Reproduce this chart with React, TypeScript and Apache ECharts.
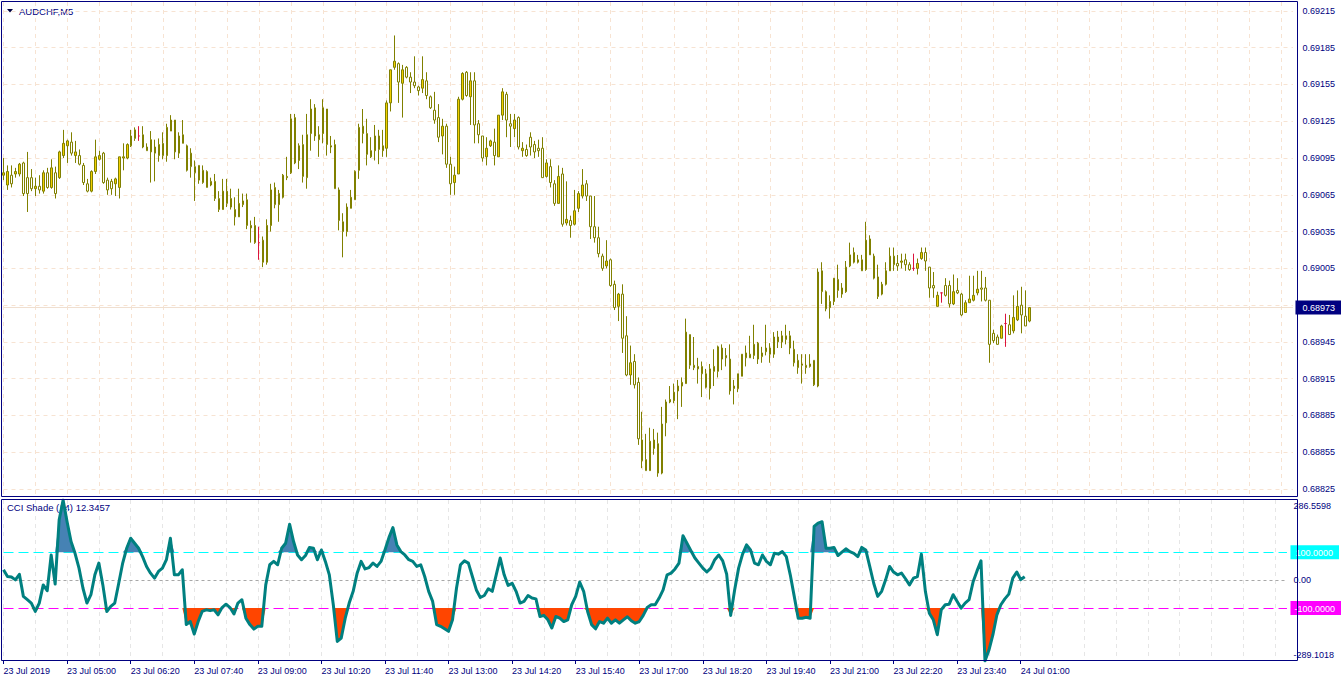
import React, { useEffect, useRef } from 'react';
import * as echarts from 'echarts';

const SYMBOL_TITLE = 'AUDCHF,M5';
const CCI_TITLE = 'CCI Shade (14) 12.3457';

const OPEN = [
  0.69081,0.69073,0.69081,0.69082,0.69082,0.69091,0.69079,0.69079,0.69070,0.69072,
  0.69068,0.69083,0.69071,0.69083,0.69079,0.69097,0.69105,0.69108,0.69097,0.69097,
  0.69089,0.69074,0.69068,0.69084,0.69094,0.69099,0.69077,0.69076,0.69074,0.69071,
  0.69095,0.69095,0.69105,0.69118,0.69113,0.69114,0.69104,0.69100,0.69104,0.69097,
  0.69107,0.69097,0.69117,0.69126,0.69099,0.69114,0.69105,0.69099,0.69088,0.69089,
  0.69085,0.69084,0.69076,0.69076,0.69062,0.69053,0.69068,0.69062,0.69053,0.69047,
  0.69057,0.69061,0.69038,0.69040,0.69026,0.69028,0.69010,0.69040,0.69071,0.69057,
  0.69063,0.69079,0.69083,0.69128,0.69093,0.69106,0.69079,0.69115,0.69136,0.69110,
  0.69115,0.69135,0.69104,0.69106,0.69069,0.69043,0.69035,0.69054,0.69061,0.69085,
  0.69121,0.69115,0.69096,0.69101,0.69113,0.69101,0.69103,0.69140,0.69169,0.69172,
  0.69156,0.69169,0.69161,0.69157,0.69153,0.69152,0.69158,0.69145,0.69134,0.69128,
  0.69113,0.69121,0.69090,0.69075,0.69082,0.69143,0.69165,0.69145,0.69158,0.69123,
  0.69113,0.69096,0.69105,0.69108,0.69096,0.69130,0.69147,0.69123,0.69119,0.69128,
  0.69101,0.69102,0.69112,0.69106,0.69103,0.69103,0.69080,0.69088,0.69074,0.69058,
  0.69082,0.69042,0.69044,0.69041,0.69054,0.69064,0.69074,0.69064,0.69039,0.69030,
  0.69015,0.69007,0.69012,0.68992,0.68974,0.68984,0.68950,0.68918,0.68929,0.68912,
  0.68865,0.68849,0.68840,0.68865,0.68862,0.68838,0.68879,0.68896,0.68897,0.68905,
  0.68909,0.68911,0.68951,0.68926,0.68925,0.68925,0.68919,0.68907,0.68921,0.68921,
  0.68940,0.68934,0.68931,0.68907,0.68907,0.68917,0.68936,0.68935,0.68934,0.68944,
  0.68936,0.68937,0.68940,0.68935,0.68949,0.68945,0.68950,0.68950,0.68939,0.68930,
  0.68927,0.68926,0.68925,0.68930,0.68909,0.69003,0.68986,0.68973,0.68978,0.68996,
  0.68989,0.68986,0.69007,0.69018,0.69010,0.69012,0.69004,0.69029,0.69015,0.68998,
  0.68984,0.68992,0.69003,0.69015,0.69009,0.69010,0.69012,0.69008,0.69005,0.69005,
  0.69013,0.69018,0.69006,0.68991,0.68974,0.68985,0.68991,0.68991,0.68976,0.68987,
  0.68984,0.68969,0.68977,0.68979,0.68985,0.68989,0.68989,0.68979,0.68952,0.68949,
  0.68948,0.68960,0.68959,0.68954,0.68963,0.68975,0.68966,0.68962,
];

const HIGH = [
  0.69095,0.69089,0.69089,0.69087,0.69091,0.69092,0.69100,0.69086,0.69079,0.69081,
  0.69085,0.69087,0.69094,0.69088,0.69101,0.69118,0.69110,0.69116,0.69109,0.69102,
  0.69091,0.69078,0.69085,0.69110,0.69101,0.69100,0.69079,0.69078,0.69079,0.69096,
  0.69107,0.69107,0.69118,0.69120,0.69121,0.69121,0.69107,0.69117,0.69110,0.69111,
  0.69116,0.69123,0.69130,0.69126,0.69116,0.69126,0.69106,0.69103,0.69093,0.69089,
  0.69089,0.69085,0.69079,0.69082,0.69068,0.69078,0.69078,0.69070,0.69063,0.69070,
  0.69066,0.69066,0.69044,0.69047,0.69039,0.69031,0.69045,0.69074,0.69075,0.69069,
  0.69082,0.69096,0.69131,0.69131,0.69107,0.69114,0.69131,0.69143,0.69139,0.69121,
  0.69143,0.69135,0.69113,0.69110,0.69071,0.69050,0.69058,0.69069,0.69085,0.69123,
  0.69135,0.69127,0.69112,0.69122,0.69118,0.69118,0.69142,0.69167,0.69195,0.69173,
  0.69171,0.69170,0.69165,0.69178,0.69154,0.69178,0.69165,0.69146,0.69149,0.69139,
  0.69127,0.69123,0.69096,0.69088,0.69145,0.69165,0.69166,0.69165,0.69165,0.69126,
  0.69113,0.69112,0.69110,0.69119,0.69130,0.69152,0.69149,0.69131,0.69131,0.69129,
  0.69108,0.69106,0.69116,0.69109,0.69110,0.69112,0.69094,0.69094,0.69077,0.69089,
  0.69087,0.69076,0.69048,0.69069,0.69068,0.69086,0.69077,0.69064,0.69064,0.69039,
  0.69017,0.69028,0.69013,0.68995,0.68985,0.68992,0.68966,0.68942,0.68935,0.68916,
  0.68888,0.68870,0.68875,0.68874,0.68871,0.68892,0.68898,0.68909,0.68911,0.68914,
  0.68916,0.68964,0.68951,0.68949,0.68932,0.68929,0.68923,0.68927,0.68939,0.68942,
  0.68943,0.68940,0.68943,0.68914,0.68919,0.68935,0.68942,0.68950,0.68959,0.68945,
  0.68941,0.68959,0.68944,0.68953,0.68954,0.68954,0.68959,0.68954,0.68946,0.68935,
  0.68935,0.68935,0.68935,0.68930,0.69005,0.69010,0.68987,0.68983,0.68997,0.69008,
  0.68993,0.69011,0.69026,0.69022,0.69016,0.69016,0.69043,0.69032,0.69017,0.69008,
  0.68994,0.69010,0.69022,0.69022,0.69016,0.69017,0.69017,0.69010,0.69017,0.69013,
  0.69022,0.69022,0.69006,0.69002,0.68986,0.68985,0.68997,0.68995,0.69000,0.68997,
  0.68985,0.68979,0.68999,0.68999,0.69003,0.69003,0.68998,0.68979,0.68955,0.68951,
  0.68959,0.68968,0.68967,0.68983,0.68987,0.68990,0.68987,0.68973,
];

const LOW = [
  0.69077,0.69069,0.69071,0.69079,0.69080,0.69064,0.69051,0.69068,0.69064,0.69066,
  0.69066,0.69070,0.69070,0.69062,0.69078,0.69095,0.69091,0.69097,0.69091,0.69089,
  0.69073,0.69067,0.69067,0.69082,0.69093,0.69074,0.69065,0.69065,0.69064,0.69062,
  0.69085,0.69094,0.69104,0.69109,0.69109,0.69103,0.69101,0.69075,0.69076,0.69092,
  0.69094,0.69092,0.69117,0.69094,0.69095,0.69107,0.69084,0.69079,0.69060,0.69074,
  0.69074,0.69071,0.69072,0.69060,0.69051,0.69053,0.69055,0.69053,0.69040,0.69047,
  0.69055,0.69037,0.69026,0.69025,0.69012,0.69006,0.69008,0.69035,0.69054,0.69043,
  0.69062,0.69077,0.69082,0.69090,0.69086,0.69075,0.69070,0.69101,0.69109,0.69096,
  0.69107,0.69097,0.69099,0.69070,0.69036,0.69014,0.69031,0.69054,0.69061,0.69078,
  0.69107,0.69089,0.69095,0.69093,0.69090,0.69096,0.69096,0.69133,0.69167,0.69140,
  0.69128,0.69160,0.69148,0.69152,0.69146,0.69148,0.69143,0.69135,0.69123,0.69108,
  0.69098,0.69087,0.69065,0.69065,0.69082,0.69142,0.69145,0.69122,0.69107,0.69107,
  0.69092,0.69089,0.69104,0.69089,0.69096,0.69126,0.69112,0.69104,0.69112,0.69102,
  0.69096,0.69096,0.69097,0.69095,0.69096,0.69079,0.69079,0.69071,0.69056,0.69058,
  0.69039,0.69040,0.69030,0.69040,0.69051,0.69062,0.69060,0.69029,0.69026,0.69014,
  0.69003,0.69005,0.68990,0.68971,0.68962,0.68936,0.68917,0.68910,0.68907,0.68861,
  0.68842,0.68840,0.68840,0.68853,0.68835,0.68837,0.68868,0.68895,0.68895,0.68882,
  0.68892,0.68911,0.68923,0.68922,0.68911,0.68900,0.68907,0.68898,0.68909,0.68916,
  0.68922,0.68925,0.68902,0.68894,0.68904,0.68917,0.68925,0.68932,0.68931,0.68927,
  0.68928,0.68934,0.68928,0.68932,0.68940,0.68940,0.68943,0.68935,0.68925,0.68919,
  0.68911,0.68919,0.68924,0.68909,0.68908,0.68976,0.68970,0.68964,0.68975,0.68981,
  0.68981,0.68985,0.69006,0.69009,0.69009,0.69003,0.69003,0.69016,0.68996,0.68980,
  0.68983,0.68991,0.69003,0.69003,0.69003,0.69005,0.69003,0.69003,0.69003,0.69000,
  0.69012,0.69003,0.68981,0.68981,0.68974,0.68977,0.68982,0.68973,0.68975,0.68984,
  0.68966,0.68969,0.68977,0.68978,0.68983,0.68978,0.68978,0.68928,0.68944,0.68943,
  0.68948,0.68941,0.68951,0.68952,0.68962,0.68952,0.68958,0.68961,
];

const CLOSE = [
  0.69083,0.69084,0.69074,0.69084,0.69090,0.69066,0.69066,0.69070,0.69072,0.69069,
  0.69083,0.69071,0.69087,0.69066,0.69100,0.69107,0.69109,0.69099,0.69100,0.69090,
  0.69075,0.69068,0.69084,0.69096,0.69097,0.69075,0.69069,0.69070,0.69078,0.69096,
  0.69096,0.69106,0.69113,0.69111,0.69113,0.69104,0.69101,0.69110,0.69099,0.69106,
  0.69097,0.69120,0.69126,0.69100,0.69113,0.69107,0.69085,0.69088,0.69083,0.69077,
  0.69075,0.69071,0.69073,0.69062,0.69053,0.69068,0.69058,0.69055,0.69047,0.69058,
  0.69060,0.69040,0.69040,0.69026,0.69026,0.69010,0.69040,0.69069,0.69057,0.69066,
  0.69081,0.69080,0.69127,0.69091,0.69105,0.69080,0.69114,0.69135,0.69113,0.69114,
  0.69136,0.69106,0.69105,0.69070,0.69044,0.69035,0.69055,0.69063,0.69084,0.69120,
  0.69115,0.69098,0.69101,0.69113,0.69102,0.69105,0.69140,0.69167,0.69174,0.69157,
  0.69167,0.69161,0.69157,0.69154,0.69150,0.69159,0.69146,0.69136,0.69126,0.69112,
  0.69121,0.69090,0.69074,0.69081,0.69143,0.69164,0.69146,0.69158,0.69122,0.69114,
  0.69095,0.69103,0.69109,0.69097,0.69130,0.69149,0.69126,0.69121,0.69126,0.69104,
  0.69103,0.69097,0.69104,0.69100,0.69101,0.69079,0.69091,0.69075,0.69058,0.69080,
  0.69041,0.69045,0.69040,0.69052,0.69066,0.69073,0.69064,0.69039,0.69030,0.69017,
  0.69005,0.69011,0.68991,0.68973,0.68984,0.68948,0.68918,0.68928,0.68910,0.68866,
  0.68848,0.68840,0.68864,0.68858,0.68838,0.68878,0.68896,0.68898,0.68904,0.68909,
  0.68912,0.68953,0.68926,0.68924,0.68923,0.68919,0.68908,0.68923,0.68925,0.68941,
  0.68931,0.68932,0.68905,0.68909,0.68919,0.68935,0.68932,0.68932,0.68943,0.68931,
  0.68933,0.68940,0.68935,0.68949,0.68945,0.68950,0.68947,0.68940,0.68928,0.68924,
  0.68926,0.68924,0.68927,0.68910,0.69002,0.68986,0.68972,0.68978,0.68997,0.68987,
  0.68984,0.69006,0.69016,0.69010,0.69012,0.69003,0.69028,0.69016,0.68997,0.68982,
  0.68992,0.69003,0.69015,0.69008,0.69007,0.69011,0.69008,0.69004,0.69005,0.69009,
  0.69018,0.69011,0.68989,0.68989,0.68983,0.68985,0.68983,0.68976,0.68986,0.68985,
  0.68967,0.68977,0.68980,0.68983,0.68988,0.68988,0.68979,0.68943,0.68946,0.68943,
  0.68958,0.68960,0.68951,0.68965,0.68974,0.68967,0.68958,0.68973,
];

const CCI = [
  37, 13, 11, 1, 21, -58, -70, -82, -112, -82,
  -17, -38, 90, -14, 215, 286.5598, 209, 138, 96, 43,
  -29, -82, -52, 19, 61, -17, -112, -94, -82, -11,
  61, 114, 150, 132, 114, 84, 49, 25, 7, 31,
  43, 73, 150, 19, 19, 37, -159, -148, -193, -148,
  -112, -106, -109, -106, -124, -98, -86, -98, -121, -82,
  -70, -136, -159, -175, -165, -165, -17, 55, 67, 55,
  114, 132, 200, 138, 90, 73, 88, 117, 114, 73,
  108, 67, 19, -88, -219, -207, -136, -82, -40, 25,
  67, 40, 45, 61, 49, 67, 108, 152, 188, 126,
  102, 90, 73, 67, 49, 55, 13, -40, -76, -159,
  -165, -174, -183, -142, -29, 55, 69, 61, 13, -35,
  -62, -55, -31, -40, 19, 79, 19, -19, -11, -40,
  -82, -76, -55, -64, -67, -130, -126, -142, -171, -130,
  -136, -148, -142, -88, -58, -7, -40, -112, -159, -174,
  -148, -154, -136, -154, -142, -154, -142, -131, -145, -154,
  -148, -126, -98, -88, -88, -64, -35, 19, 25, 40,
  61, 159, 132, 105, 79, 61, 43, 29, 43, 73,
  90, 69, 21, -126, -35, 43, 93, 126, 108, 61,
  55, 90, 67, 55, 96, 93, 102, 84, 19, -58,
  -136, -136, -133, -136, 192, 204, 209, 114, 114, 117,
  88, 100, 112, 102, 96, 84, 117, 108, 49, -11,
  -58, -40, 1, 49, 29, 19, 25, 5, -17, 7,
  13, 93, -40, -118, -142, -195, -106, -88, -86, -52,
  -76, -100, -82, -70, -7, 33, 69, -289.1018, -250, -195,
  -124, -88, -67, -50, 7, 29, 2, 12.3457,
];

const TIME_LABELS = [
  '23 Jul 2019', '23 Jul 05:00', '23 Jul 06:20', '23 Jul 07:40', '23 Jul 09:00',
  '23 Jul 10:20', '23 Jul 11:40', '23 Jul 13:00', '23 Jul 14:20', '23 Jul 15:40',
  '23 Jul 17:00', '23 Jul 18:20', '23 Jul 19:40', '23 Jul 21:00', '23 Jul 22:20',
  '23 Jul 23:40', '24 Jul 01:00',
];

const PRICE_TICKS = [
  0.68825, 0.68855, 0.68885, 0.68915, 0.68945, 0.68975, 0.69005,
  0.69035, 0.69065, 0.69095, 0.69125, 0.69155, 0.69185, 0.69215,
];
const CURRENT_PRICE = 0.68973;
const PRICE_MIN = 0.688193;
const PRICE_MAX = 0.692223;

const CCI_MAX = 286.5598;
const CCI_MIN = -289.1018;
const CCI_UPPER = 100;
const CCI_LOWER = -100;
const CCI_ZERO = 0;

const SLOTS = 324;
const BARS_PER_LABEL = 16;
const BARS_PER_GRID = 8;
const START_MINUTES = 3 * 60 + 40;

const NAVY = '#000080';
const FONT = "'Liberation Sans', Arial, sans-serif";

function pad2(n: number) {
  return String(n).padStart(2, '0');
}

const CATEGORIES = Array.from({ length: SLOTS }, (_, i) => {
  const m = START_MINUTES + 5 * i;
  const day = m >= 1440 ? 24 : 23;
  const mm = m % 1440;
  return `${day} Jul ${pad2(Math.floor(mm / 60))}:${pad2(mm % 60)}`;
});

export default function App() {
  const ref = useRef<HTMLDivElement>(null);

  useEffect(() => {
    if (!ref.current) return;
    const chart = echarts.init(ref.current, null, { renderer: 'svg' });

    const candles = OPEN.map((o, i) => [o, CLOSE[i], LOW[i], HIGH[i]]);
    const upFill = CCI.map((v) => Math.max(v, CCI_UPPER));
    const dnFill = CCI.map((v) => Math.min(v, CCI_LOWER));

    const labelShown = (idx: number) =>
      idx % BARS_PER_LABEL === 0 && idx / BARS_PER_LABEL < TIME_LABELS.length;

    const priceLabelValues = PRICE_TICKS.filter(
      (v) => Math.abs(v - CURRENT_PRICE) > 0.0001
    ).concat([CURRENT_PRICE]);

    const option: any = {
      animation: false,
      backgroundColor: '#ffffff',
      textStyle: { fontFamily: FONT },
      grid: [
        { left: 3.5, top: 2, width: 1292, height: 494 },
        { left: 3.5, top: 500, width: 1292, height: 161 },
      ],
      xAxis: [
        {
          type: 'category',
          gridIndex: 0,
          data: CATEGORIES,
          boundaryGap: false,
          axisLine: { show: false, onZero: false },
          axisTick: { show: false },
          axisLabel: { show: false },
          splitLine: {
            show: true,
            interval: BARS_PER_GRID - 1,
            lineStyle: { color: '#F7E3D2', type: [4, 4], width: 1 },
          },
        },
        {
          type: 'category',
          gridIndex: 1,
          data: CATEGORIES,
          boundaryGap: false,
          axisLine: { show: false, onZero: false },
          axisTick: {
            show: true,
            interval: (idx: number) => labelShown(idx),
            length: 3,
            lineStyle: { color: NAVY },
          },
          axisLabel: {
            show: true,
            interval: (idx: number) => labelShown(idx),
            formatter: (_v: string, idx: number) =>
              labelShown(idx) ? TIME_LABELS[idx / BARS_PER_LABEL] : '',
            align: 'left',
            color: NAVY,
            fontSize: 9,
            fontFamily: FONT,
            margin: 5,
          },
          splitLine: {
            show: true,
            interval: BARS_PER_GRID - 1,
            lineStyle: { color: '#E6E6E6', type: [4, 4], width: 1 },
          },
        },
      ],
      yAxis: [
        {
          type: 'value',
          gridIndex: 0,
          position: 'right',
          min: PRICE_MIN,
          max: PRICE_MAX,
          axisLine: { show: false },
          splitLine: { show: false },
          axisTick: { show: false },
          axisLabel: {
            customValues: priceLabelValues,
            margin: 2.5,
            formatter: (v: number) =>
              Math.abs(v - CURRENT_PRICE) < 1e-9
                ? `{cur|${v.toFixed(5)}}`
                : `{n|${v.toFixed(5)}}`,
            rich: {
              n: { color: NAVY, fontSize: 9, fontFamily: FONT, padding: [0, 0, 0, 7] },
              cur: {
                color: '#ffffff',
                backgroundColor: NAVY,
                fontSize: 9,
                fontFamily: FONT,
                padding: [3, 6, 2, 7],
              },
            },
          },
        },
        {
          type: 'value',
          gridIndex: 1,
          position: 'right',
          min: CCI_MIN,
          max: CCI_MAX,
          axisLine: { show: false },
          splitLine: { show: false },
          axisTick: { show: false },
          axisLabel: {
            customValues: [CCI_MAX, CCI_UPPER, CCI_ZERO, CCI_LOWER, CCI_MIN],
            margin: 3.5,
            formatter: (v: number) => {
              if (v === CCI_MAX) return `{top|${v.toFixed(4)}}`;
              if (v === CCI_MIN) return `{bot|${v.toFixed(4)}}`;
              if (v === CCI_UPPER) return `{cy|${v.toFixed(4)}}`;
              if (v === CCI_LOWER) return `{mg|${v.toFixed(4)}}`;
              return `{z|${v.toFixed(2)}}`;
            },
            rich: {
              top: { color: NAVY, fontSize: 9, fontFamily: FONT, padding: [12, 0, 0, 3] },
              bot: { color: NAVY, fontSize: 9, fontFamily: FONT, padding: [0, 0, 12, 3] },
              z: { color: NAVY, fontSize: 9, fontFamily: FONT, padding: [0, 0, 0, 3] },
              cy: {
                color: '#ffffff',
                backgroundColor: '#00FFFF',
                fontSize: 9,
                fontFamily: FONT,
                padding: [3, 6, 2, 5],
              },
              mg: {
                color: '#ffffff',
                backgroundColor: '#FF00FF',
                fontSize: 9,
                fontFamily: FONT,
                padding: [3, 6, 2, 4],
              },
            },
          },
        },
      ],
      series: [
        {
          type: 'line',
          name: 'price grid',
          xAxisIndex: 0,
          yAxisIndex: 0,
          data: [],
          z: 1,
          markLine: {
            z: 1,
            silent: true,
            precision: 6,
            symbol: ['none', 'none'],
            label: { show: false },
            data: [
              ...PRICE_TICKS.map((v) => ({
                yAxis: v,
                lineStyle: { color: '#F7E3D2', type: [4, 4], width: 1 },
              })),
              {
                yAxis: CURRENT_PRICE,
                lineStyle: { color: '#F0DFD0', type: 'solid', width: 1 },
              },
            ],
          },
        },
        {
          type: 'candlestick',
          name: SYMBOL_TITLE,
          xAxisIndex: 0,
          yAxisIndex: 0,
          data: candles,
          barWidth: 2,
          z: 3,
          itemStyle: {
            color: '#F2CF00',
            color0: '#FFFFFF',
            borderColor: '#808000',
            borderColor0: '#808000',
            borderColorDoji: '#DC143C',
            borderWidth: 1,
          },
        },
        {
          type: 'line',
          name: 'levels',
          xAxisIndex: 1,
          yAxisIndex: 1,
          data: [],
          z: 1,
          markLine: {
            z: 1,
            silent: true,
            precision: 4,
            symbol: ['none', 'none'],
            label: { show: false },
            data: [
              { yAxis: CCI_UPPER, lineStyle: { color: '#00FFFF', type: [10, 5], width: 1 } },
              { yAxis: CCI_LOWER, lineStyle: { color: '#FF00FF', type: [10, 5], width: 1 } },
              { yAxis: CCI_ZERO, lineStyle: { color: '#A8A8A8', type: [3, 3], width: 1 } },
            ],
          },
        },
        {
          type: 'line',
          name: 'above',
          xAxisIndex: 1,
          yAxisIndex: 1,
          data: upFill,
          symbol: 'none',
          z: 2,
          lineStyle: { width: 0, opacity: 0 },
          areaStyle: { color: '#4682B4', opacity: 1, origin: CCI_UPPER },
        },
        {
          type: 'line',
          name: 'below',
          xAxisIndex: 1,
          yAxisIndex: 1,
          data: dnFill,
          symbol: 'none',
          z: 2,
          lineStyle: { width: 0, opacity: 0 },
          areaStyle: { color: '#FF4500', opacity: 1, origin: CCI_LOWER },
        },
        {
          type: 'line',
          name: 'CCI',
          xAxisIndex: 1,
          yAxisIndex: 1,
          data: CCI,
          symbol: 'none',
          z: 4,
          lineStyle: { color: '#008080', width: 3, join: 'round' },
        },
      ],
      graphic: [
        {
          type: 'polygon',
          silent: true,
          shape: { points: [[7, 9], [13, 9], [10, 12.5]] },
          style: { fill: '#000040' },
        },
        {
          type: 'text',
          silent: true,
          x: 19,
          y: 11,
          style: {
            text: SYMBOL_TITLE,
            fill: NAVY,
            fontSize: 9.5,
            fontFamily: FONT,
            verticalAlign: 'middle',
          },
        },
        {
          type: 'text',
          silent: true,
          x: 7,
          y: 507.5,
          style: {
            text: CCI_TITLE,
            fill: NAVY,
            fontSize: 9.5,
            fontFamily: FONT,
            verticalAlign: 'middle',
          },
        },
        {
          type: 'rect',
          silent: true,
          z: 100,
          shape: { x: 1.5, y: 1.5, width: 1296, height: 495 },
          style: { fill: 'none', stroke: NAVY, lineWidth: 1 },
        },
        {
          type: 'rect',
          silent: true,
          z: 100,
          shape: { x: 1.5, y: 499.5, width: 1296, height: 161 },
          style: { fill: 'none', stroke: NAVY, lineWidth: 1 },
        },
      ],
    };

    chart.setOption(option);
    return () => {
      chart.dispose();
    };
  }, []);

  return (
    <div
      ref={ref}
      style={{
        position: 'fixed',
        left: 0,
        top: 0,
        width: 1344,
        height: 682,
        background: '#ffffff',
      }}
    />
  );
}
